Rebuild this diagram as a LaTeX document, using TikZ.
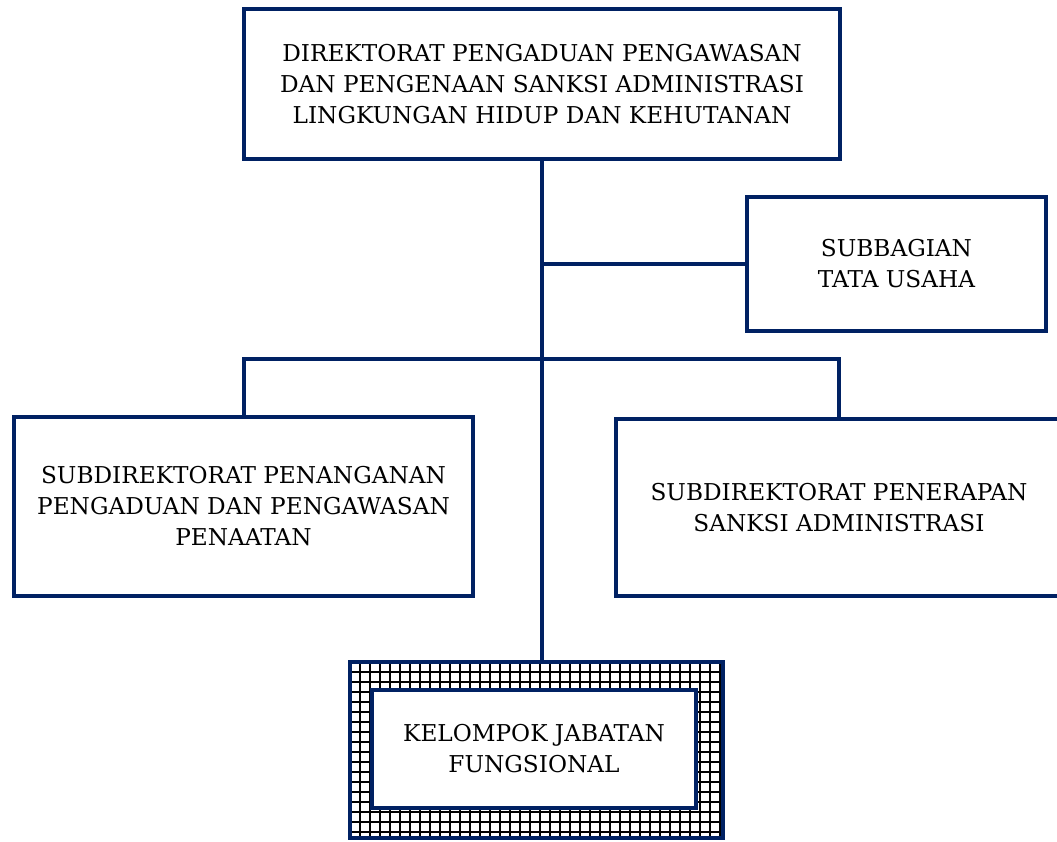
\documentclass[tikz,border=0pt]{standalone}
\usepackage{fontspec}
\setmainfont{DejaVu Serif}
\usepackage{tikz}
\usetikzlibrary{positioning, patterns.meta}

\definecolor{navy}{RGB}{0,33,99}

\begin{document}
\begin{tikzpicture}[x=0.5pt, y=-0.5pt]
% Define styles
\tikzstyle{orgbox} = [rectangle, draw=navy, line width=2pt, fill=white, align=center, text centered, inner sep=0pt, font=\fontsize{11.6}{15.5}\selectfont]
\tikzstyle{line} = [draw=navy, line width=2pt]

\useasboundingbox (0,0) rectangle (1057,842);

% Director
\node[orgbox, minimum width=298pt, minimum height=75pt] (direktorat) at (542,84) {DIREKTORAT PENGADUAN PENGAWASAN\\DAN PENGENAAN SANKSI ADMINISTRASI\\LINGKUNGAN HIDUP DAN KEHUTANAN};

% Staff unit
\node[orgbox, minimum width=149.5pt, minimum height=67pt] (subbagian) at (896.5,264) {SUBBAGIAN\\TATA USAHA};

% Subdirectorates
\node[orgbox, minimum width=229.5pt, minimum height=89.5pt] (penanganan) at (243.5,506.5) {SUBDIREKTORAT PENANGANAN\\PENGADUAN DAN PENGAWASAN\\PENAATAN};
\node[orgbox, minimum width=223pt, minimum height=88.5pt] (penerapan) at (839,507.5) {SUBDIREKTORAT PENERAPAN\\SANKSI ADMINISTRASI};

% Functional group
\node[rectangle, draw=navy, line width=2pt, pattern={Hatch[angle=0, distance=5pt, line width=0.9pt]}, pattern color=black, minimum width=186.5pt, minimum height=88pt] (kjfouter) at (536.5,750) {};
\node[orgbox, minimum width=162pt, minimum height=59pt] (kjf) at (534,749) {KELOMPOK JABATAN\\FUNGSIONAL};

% Connectors
\draw[line] (direktorat.south) -- (direktorat.south |- kjfouter.north);
\draw[line] (direktorat.south |- subbagian.west) -- (subbagian.west);
\draw[line] (penanganan.north) -- ++(0,-56) -| (penerapan.north);

\end{tikzpicture}
\end{document}
